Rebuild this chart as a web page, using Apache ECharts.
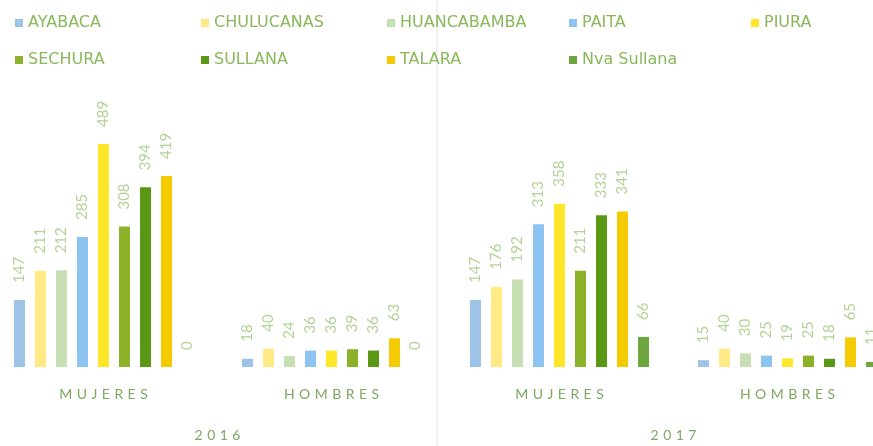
<!DOCTYPE html>
<html>
<head>
<meta charset="utf-8">
<script src="https://cdn.jsdelivr.net/npm/echarts@6/dist/echarts.min.js"></script>
<style>
  html, body { margin: 0; padding: 0; background: #fff; overflow: hidden; }
  #chart { width: 873px; height: 446px; }
</style>
</head>
<body>
<div id="chart"></div>
<script>
var years = ['2016', '2017'];
var groups = ['MUJERES', 'HOMBRES'];
var provincias = ['AYABACA', 'CHULUCANAS', 'HUANCABAMBA', 'PAITA', 'PIURA', 'SECHURA', 'SULLANA', 'TALARA', 'Nva Sullana'];
var colores = ['#9dc3e6', '#ffea86', '#c6e0b4', '#8ec4f2', '#ffe629', '#8cb22a', '#5a9714', '#f4cb00', '#6ea63f'];

// values per provincia: 2016 MUJERES, 2016 HOMBRES, 2017 MUJERES, 2017 HOMBRES
var ayabaca = [147, 18, 147, 15];
var chulucanas = [211, 40, 176, 40];
var huancabamba = [212, 24, 192, 30];
var paita = [285, 36, 313, 25];
var piura = [489, 36, 358, 19];
var sechura = [308, 39, 211, 25];
var sullana = [394, 36, 333, 18];
var talara = [419, 63, 341, 65];
var nvaSullana = [0, 0, 66, 11];
var valores = [ayabaca, chulucanas, huancabamba, paita, piura, sechura, sullana, talara, nvaSullana];

var categorias = [];
years.forEach(function (y) {
    groups.forEach(function (g) { categorias.push(y + '|' + g); });
});

// wide letter spacing like the original axis labels
function espaciar(s) { return s.split('').join(' \u200a'); }

var chart = echarts.init(document.getElementById('chart'));

var legendX = [10, 196, 382, 564, 746];
var legendY = [10, 47];
var legends = provincias.map(function (p, i) {
    return {
        data: [p],
        left: legendX[i % 5],
        top: legendY[Math.floor(i / 5)],
        itemWidth: 8,
        itemHeight: 8,
        itemGap: 4,
        icon: 'rect',
        textStyle: { color: '#8ab85a', fontSize: 16, fontFamily: 'DejaVu Sans', padding: [0, 0, 0, 0] }
    };
});

var series = provincias.map(function (p, i) {
    return {
        name: p,
        type: 'bar',
        xAxisIndex: 0,
        data: valores[i],
        barWidth: 11,
        barGap: '91%',
        itemStyle: { color: colores[i] },
        label: {
            show: true,
            position: 'top',
            rotate: 90,
            align: 'left',
            verticalAlign: 'middle',
            distance: 17,
            color: '#b3d396',
            fontSize: 15,
            fontFamily: 'Lato'
        }
    };
});

chart.setOption({
    animation: false,
    backgroundColor: '#ffffff',
    color: colores,
    legend: legends,
    grid: { left: -10.5, right: -28.5, top: 93.4, bottom: 79, outerBoundsMode: 'none', containLabel: false },
    xAxis: [{
        type: 'category',
        data: categorias,
        axisLine: { show: false },
        axisTick: { show: false },
        axisLabel: {
            margin: 20,
            color: '#7fa862',
            fontSize: 14,
            fontFamily: 'Lato',
            formatter: function (v) { return espaciar(v.split('|')[1]); }
        }
    }, {
        type: 'category',
        position: 'bottom',
        data: years,
        offset: 53,
        axisLine: { show: false },
        axisTick: { show: false },
        axisLabel: {
            color: '#7fa862',
            fontSize: 14,
            fontFamily: 'Lato',
            formatter: function (v) { return espaciar(v); }
        }
    }],
    yAxis: { type: 'value', min: 0, max: 600, show: false },
    graphic: [{
        type: 'line',
        shape: { x1: 437, y1: 0, x2: 437, y2: 446 },
        style: { stroke: '#ececec', lineWidth: 1.5 },
        silent: true
    }],
    series: series
});
</script>
</body>
</html>
